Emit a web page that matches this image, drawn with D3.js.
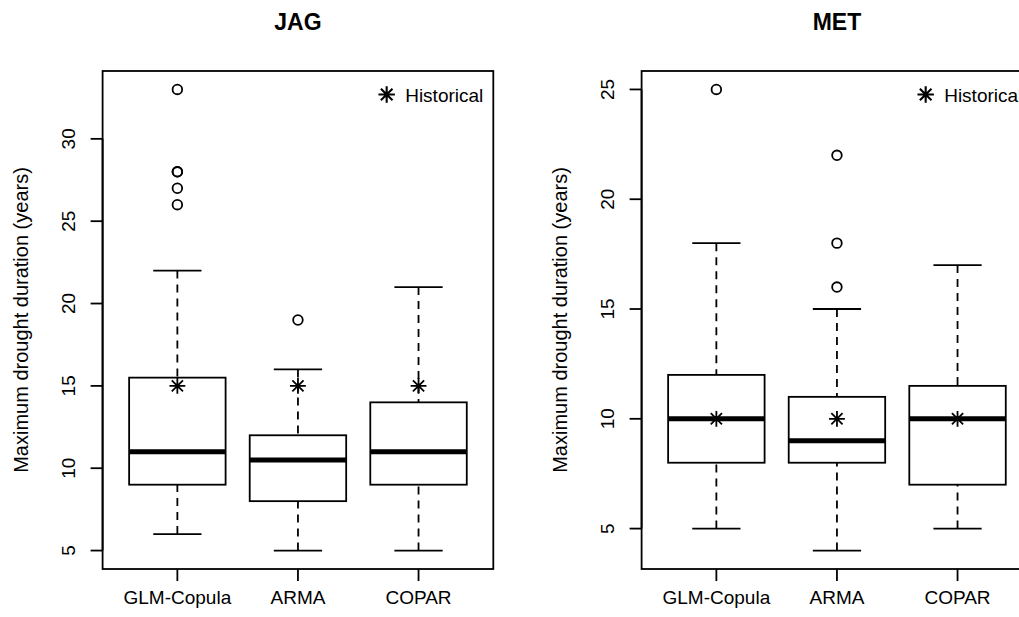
<!DOCTYPE html>
<html>
<head>
<meta charset="utf-8">
<script src="https://cdn.jsdelivr.net/npm/d3@7"></script>
<style>
  html, body { margin: 0; padding: 0; background: #fff; }
  text { font-family: "Liberation Sans", Arial, Helvetica, sans-serif; fill: #000; }
</style>
</head>
<body>
<svg id="chart" width="1019" height="617"></svg>
<script>
// ---- data ----
const categories = ["GLM-Copula", "ARMA", "COPAR"];
const panelTitles = ["JAG", "MET"];
const yAxisTitle = "Maximum drought duration (years)";
const legendLabel = "Historical";

// [lower whisker, Q1, median, Q3, upper whisker]
const jagStats = [[6, 9, 11, 15.5, 22], [5, 8, 10.5, 12, 16], [5, 9, 11, 14, 21]];
const jagOutliers = [[26, 27, 28, 28, 33], [19], []];
const jagHistorical = [15, 15, 15];
const jagTicks = [5, 10, 15, 20, 25, 30];

const metStats = [[5, 8, 10, 12, 18], [4, 8, 9, 11, 15], [5, 7, 10, 11.5, 17]];
const metOutliers = [[25], [16, 18, 22], []];
const metHistorical = [10, 10, 10];
const metTicks = [5, 10, 15, 20, 25];

const panelsData = [
  { title: panelTitles[0], stats: jagStats, outliers: jagOutliers, hist: jagHistorical, ticks: jagTicks },
  { title: panelTitles[1], stats: metStats, outliers: metOutliers, hist: metHistorical, ticks: metTicks }
];

// ---- layout ----
const svg = d3.select("#chart");
const plotTop = 71, plotBottom = 569;
const panelLefts = [102.6, 641.6];
const plotWidth = 390.7;
const lw = 1.8;
const fontSize = 19;

function asteriskPath(cx, cy, r) {
  const p = Math.SQRT2 * r;
  return `M${cx - r},${cy - r}L${cx + r},${cy + r}M${cx - r},${cy + r}L${cx + r},${cy - r}` +
         `M${cx - p},${cy}L${cx + p},${cy}M${cx},${cy - p}L${cx},${cy + p}`;
}

panelsData.forEach((pd, pi) => {
  const left = panelLefts[pi];
  const right = left + plotWidth;
  const g = svg.append("g");

  // y domain: data range extended by 4% (R default)
  const allVals = pd.stats.flat().concat(pd.outliers.flat());
  const lo = d3.min(allVals), hi = d3.max(allVals);
  const ext = (hi - lo) * 0.04;
  const y = d3.scaleLinear().domain([lo - ext, hi + ext]).range([plotBottom, plotTop]);

  const n = categories.length;
  const xl = 0.5 - 0.04 * n, xr = n + 0.5 + 0.04 * n;
  const x = d3.scaleLinear().domain([xl, xr]).range([left, right]);
  const boxHalf = 0.4, capHalf = 0.2;

  // boxes
  pd.stats.forEach((s, i) => {
    const cx = x(i + 1);
    const [wl, q1, med, q3, wh] = s;
    // whiskers dashed
    g.append("line").attr("x1", cx).attr("x2", cx).attr("y1", y(wl)).attr("y2", y(q1))
      .attr("stroke", "#000").attr("stroke-width", lw).attr("stroke-dasharray", "8,6");
    g.append("line").attr("x1", cx).attr("x2", cx).attr("y1", y(wh)).attr("y2", y(q3))
      .attr("stroke", "#000").attr("stroke-width", lw).attr("stroke-dasharray", "8,6");
    // caps
    [wl, wh].forEach(v => {
      g.append("line").attr("x1", x(i + 1 - capHalf)).attr("x2", x(i + 1 + capHalf))
        .attr("y1", y(v)).attr("y2", y(v)).attr("stroke", "#000").attr("stroke-width", lw);
    });
    // box
    g.append("rect").attr("x", x(i + 1 - boxHalf)).attr("y", y(q3))
      .attr("width", x(i + 1 + boxHalf) - x(i + 1 - boxHalf)).attr("height", y(q1) - y(q3))
      .attr("fill", "#fff").attr("stroke", "#000").attr("stroke-width", lw);
    // median
    g.append("line").attr("x1", x(i + 1 - boxHalf)).attr("x2", x(i + 1 + boxHalf))
      .attr("y1", y(med)).attr("y2", y(med)).attr("stroke", "#000").attr("stroke-width", 5);
    // outliers
    pd.outliers[i].forEach(v => {
      g.append("circle").attr("cx", cx).attr("cy", y(v)).attr("r", 4.8)
        .attr("fill", "none").attr("stroke", "#000").attr("stroke-width", lw);
    });
    // historical
    g.append("path").attr("d", asteriskPath(cx, y(pd.hist[i]), 5.6))
      .attr("stroke", "#000").attr("stroke-width", lw).attr("fill", "none");
  });

  // frame
  g.append("rect").attr("x", left).attr("y", plotTop).attr("width", plotWidth)
    .attr("height", plotBottom - plotTop).attr("fill", "none")
    .attr("stroke", "#000").attr("stroke-width", lw);

  // y axis ticks
  pd.ticks.forEach(t => {
    g.append("line").attr("x1", left - 12).attr("x2", left).attr("y1", y(t)).attr("y2", y(t))
      .attr("stroke", "#000").attr("stroke-width", lw);
    g.append("text").attr("transform", `translate(${left - 28},${y(t)}) rotate(-90)`)
      .attr("text-anchor", "middle").attr("font-size", fontSize).text(t);
  });
  g.append("line").attr("x1", left).attr("x2", left)
    .attr("y1", y(pd.ticks[0])).attr("y2", y(pd.ticks[pd.ticks.length - 1]))
    .attr("stroke", "#000").attr("stroke-width", lw);

  // x axis ticks & labels
  categories.forEach((c, i) => {
    const cx = x(i + 1);
    g.append("line").attr("x1", cx).attr("x2", cx).attr("y1", plotBottom).attr("y2", plotBottom + 12)
      .attr("stroke", "#000").attr("stroke-width", lw);
    g.append("text").attr("x", cx).attr("y", 604).attr("text-anchor", "middle")
      .attr("font-size", fontSize).text(c);
  });

  // y axis title
  g.append("text").attr("transform", `translate(${left - 75},${(plotTop + plotBottom) / 2}) rotate(-90)`)
    .attr("text-anchor", "middle").attr("font-size", 20).text(yAxisTitle);

  // panel title
  g.append("text").attr("x", (left + right) / 2).attr("y", 30).attr("text-anchor", "middle")
    .attr("font-size", 23).attr("font-weight", "bold").text(pd.title);

  // legend (top right)
  const legText = g.append("text").attr("x", right - 10).attr("y", 101.5).attr("text-anchor", "end")
    .attr("font-size", fontSize).text(legendLabel);
  const tw = legText.node().getComputedTextLength();
  g.append("path").attr("d", asteriskPath(right - 10 - tw - 18.5, 94.5, 5.8))
    .attr("stroke", "#000").attr("stroke-width", lw + 0.3).attr("fill", "none");
});
</script>
</body>
</html>
